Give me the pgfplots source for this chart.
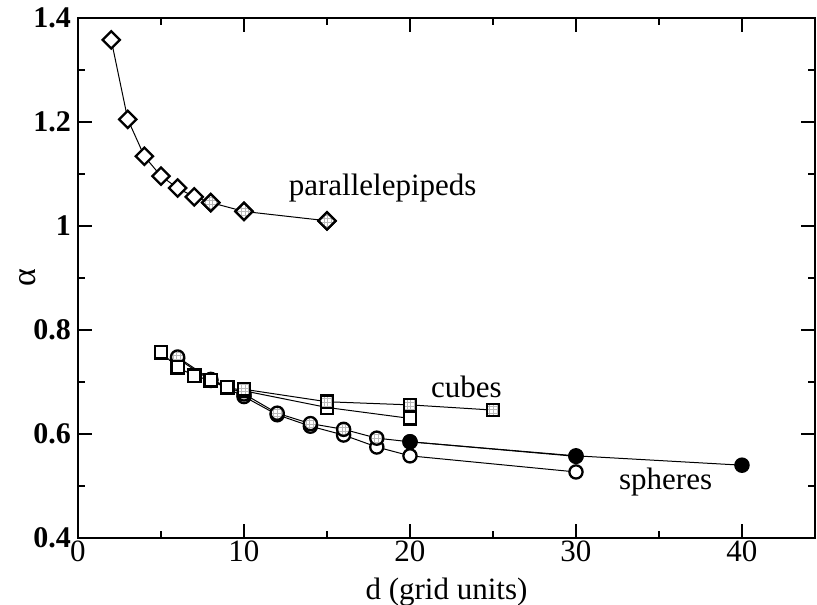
\documentclass[border=0pt]{standalone}
\usepackage{fontspec}
\setmainfont{Liberation Serif}
\usepackage{pgfplots}
\pgfplotsset{compat=1.18}
\usetikzlibrary{patterns}

\pgfdeclarepatternformonly{finegrid}{\pgfqpoint{-0.2pt}{-0.2pt}}{\pgfqpoint{2pt}{2pt}}{\pgfqpoint{1.8pt}{1.8pt}}{%
  \pgfsetlinewidth{0.3pt}%
  \pgfpathmoveto{\pgfqpoint{0pt}{0pt}}\pgfpathlineto{\pgfqpoint{1.8pt}{0pt}}%
  \pgfpathmoveto{\pgfqpoint{0pt}{0pt}}\pgfpathlineto{\pgfqpoint{0pt}{1.8pt}}%
  \pgfusepath{stroke}}

\newcommand\sqpath{\pgfpathrectangle{\pgfqpoint{-\pgfplotmarksize}{-\pgfplotmarksize}}{\pgfqpoint{2\pgfplotmarksize}{2\pgfplotmarksize}}}
\newcommand\dmpath{\pgfpathmoveto{\pgfqpoint{0pt}{\pgfplotmarksize}}\pgfpathlineto{\pgfqpoint{\pgfplotmarksize}{0pt}}\pgfpathlineto{\pgfqpoint{0pt}{-\pgfplotmarksize}}\pgfpathlineto{\pgfqpoint{-\pgfplotmarksize}{0pt}}\pgfpathclose}
\newcommand\cipath{\pgfpathcircle{\pgfpointorigin}{\pgfplotmarksize}}

\pgfdeclareplotmark{osq}{\sqpath\pgfsetfillcolor{white}\pgfusepathqfillstroke}
\pgfdeclareplotmark{gsq}{\sqpath\pgfsetfillcolor{white}\pgfusepathqfill\sqpath\pgfsetfillpattern{finegrid}{gray!55}\pgfusepathqfill\sqpath\pgfusepathqstroke}
\pgfdeclareplotmark{odm}{\dmpath\pgfsetfillcolor{white}\pgfusepathqfillstroke}
\pgfdeclareplotmark{gdm}{\dmpath\pgfsetfillcolor{white}\pgfusepathqfill\dmpath\pgfsetfillpattern{finegrid}{gray!55}\pgfusepathqfill\dmpath\pgfusepathqstroke}
\pgfdeclareplotmark{oci}{\cipath\pgfsetfillcolor{white}\pgfusepathqfillstroke}
\pgfdeclareplotmark{gci}{\cipath\pgfsetfillcolor{white}\pgfusepathqfill\cipath\pgfsetfillpattern{finegrid}{gray!55}\pgfusepathqfill\cipath\pgfusepathqstroke}
\pgfdeclareplotmark{fci}{\cipath\pgfsetfillcolor{black}\pgfusepathqfillstroke}

\begin{document}
\begin{tikzpicture}
\begin{axis}[
  at={(39pt,33pt)}, anchor=south west,
  scale only axis, width=368.5pt, height=260pt,
  xmin=0, xmax=44.4, ymin=0.4, ymax=1.4,
  xtick={0,10,20,30,40}, minor xtick={5,15,25,35},
  ytick={0.4,0.6,0.8,1,1.2,1.4}, minor ytick={0.5,0.7,0.9,1.1,1.3},
  tick align=inside, tick pos=both,
  major tick length=7pt, minor tick length=3.5pt,
  every tick/.style={black, line width=0.7pt},
  axis line style={line width=1pt},
  /pgf/number format/assume math mode=true,
  xticklabel style={font=\fontsize{15.5}{16}\selectfont, yshift=2pt},
  yticklabel style={font=\bfseries\fontsize{15}{16}\selectfont},
  xlabel={d (grid units)}, ylabel={α},
  label style={font=\fontsize{15.5}{16}\selectfont},
  xlabel style={yshift=-1pt},
  ylabel style={yshift=-8pt, font=\fontsize{17}{18}\selectfont},
  every axis plot/.append style={black, line width=0.5pt, mark options={line width=1.15pt, solid}},
]
% parallelepipeds
\addplot[mark=odm, mark size=4.3pt] coordinates {(2,1.358) (3,1.205) (4,1.134) (5,1.096) (6,1.073) (7,1.056) (8,1.045) (10,1.028) (15,1.010)};
\addplot[only marks, mark=gdm, mark size=4.3pt] coordinates {(8,1.045) (10,1.028) (15,1.010)};
% spheres
\addplot[mark=oci, mark size=3.3pt] coordinates {(6,0.745) (8,0.703) (10,0.672) (12,0.637) (14,0.615) (16,0.598) (18,0.575) (20,0.558) (30,0.527)};
\addplot[mark=gci, mark size=3.3pt] coordinates {(6,0.748) (8,0.705) (10,0.677) (12,0.640) (14,0.620) (16,0.609) (18,0.592) (20,0.585) (30,0.557)};
\addplot[mark=fci, mark size=3.3pt] coordinates {(20,0.585) (30,0.558) (40,0.540)};
% cubes
\addplot[mark=osq, mark size=3.1pt] coordinates {(5,0.757) (6,0.728) (7,0.712) (8,0.703) (9,0.690) (10,0.683) (15,0.651) (20,0.630)};
\addplot[mark=gsq, mark size=3.1pt] coordinates {(10,0.686) (15,0.662) (20,0.656) (25,0.646)};
\node[font=\fontsize{15.5}{16}\selectfont] at (axis cs:18.35,1.073) {parallelepipeds};
\node[font=\fontsize{15.5}{16}\selectfont] at (axis cs:23.4,0.690) {cubes};
\node[font=\fontsize{15.5}{16}\selectfont] at (axis cs:35.4,0.508) {spheres};
\end{axis}
\pgfresetboundingbox
\path (0,0) rectangle (408.5pt,302pt);
\end{tikzpicture}
\end{document}
